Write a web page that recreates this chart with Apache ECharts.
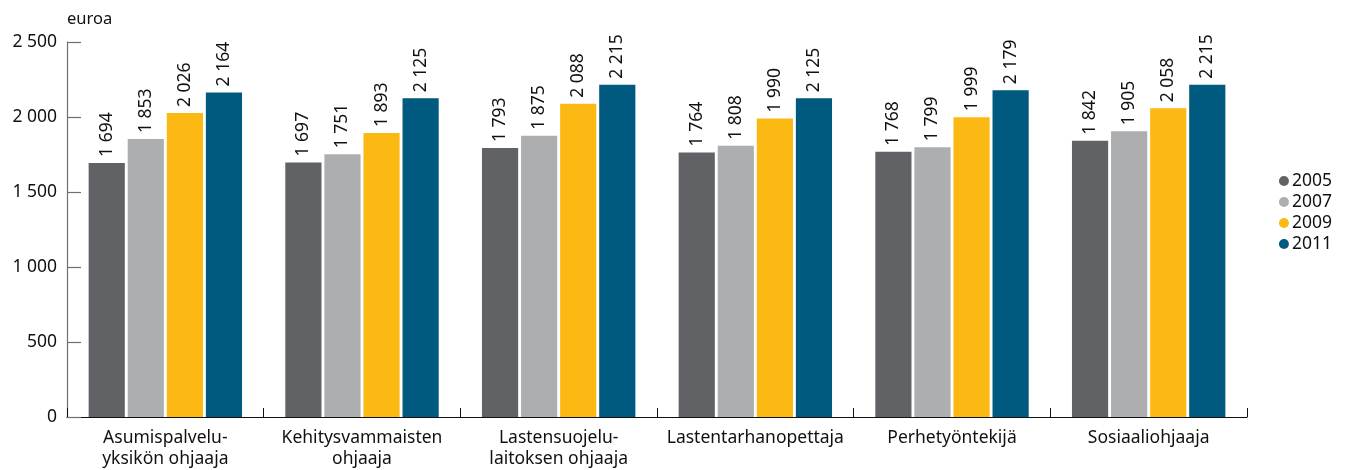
<!DOCTYPE html>
<html>
<head>
<meta charset="utf-8">
<script src="https://cdn.jsdelivr.net/npm/echarts@6/dist/echarts.min.js"></script>
<style>
  html, body { margin: 0; padding: 0; background: #fff; }
  #chart { width: 1351px; height: 470px; }
</style>
</head>
<body>
<div id="chart"></div>
<script>
// ammattinimikkeet
const categories = [
  'Asumispalvelu-\nyksikön ohjaaja',
  'Kehitysvammaisten\nohjaaja',
  'Lastensuojelu-\nlaitoksen ohjaaja',
  'Lastentarhanopettaja',
  'Perhetyöntekijä',
  'Sosiaaliohjaaja'
];
const years = ['2005', '2007', '2009', '2011'];
const values2005 = [1694, 1697, 1793, 1764, 1768, 1842];
const values2007 = [1853, 1751, 1875, 1808, 1799, 1905];
const values2009 = [2026, 1893, 2088, 1990, 1999, 2058];
const values2011 = [2164, 2125, 2215, 2125, 2179, 2215];
const colors = ['#616265', '#adaeb0', '#fdb913', '#005a7f'];

const FONT = '"Noto Sans", "Open Sans", sans-serif';

// tuhaterotin välilyönnillä
function fmt(v) {
  return String(v).replace(/\B(?=(\d{3})+(?!\d))/g, ' ');
}

const allValues = [values2005, values2007, values2009, values2011];

const chart = echarts.init(document.getElementById('chart'));
chart.setOption({
  animation: false,
  color: colors,
  textStyle: { fontFamily: FONT },
  grid: { left: 67, right: 104, top: 42, bottom: 53 },
  legend: {
    orient: 'vertical',
    right: 14,
    top: 167,
    icon: 'circle',
    itemWidth: 10,
    itemHeight: 10,
    itemGap: 3,
    textStyle: { fontFamily: FONT, fontSize: 17.5, color: '#111', padding: [0, 0, 0, -2] },
    data: years
  },
  xAxis: {
    type: 'category',
    data: categories,
    axisLine: { lineStyle: { color: '#111', width: 1.2 } },
    axisTick: { show: true, inside: true, interval: 0, length: 9, lineStyle: { color: '#111' } },
    axisLabel: { interval: 0, fontFamily: FONT, fontSize: 17.5, color: '#111', lineHeight: 21, margin: 11 }
  },
  yAxis: {
    type: 'value',
    min: 0,
    max: 2500,
    interval: 500,
    name: 'euroa',
    nameLocation: 'end',
    nameGap: 14,
    nameTextStyle: { fontFamily: FONT, fontSize: 16.5, color: '#111', align: 'left' },
    splitLine: { show: false },
    axisLine: { show: true, lineStyle: { color: '#6f6f6f', width: 1.2 } },
    axisTick: { show: true, inside: true, length: 14, lineStyle: { color: '#6f6f6f', width: 1.2 } },
    axisLabel: {
      fontFamily: FONT, fontSize: 17.5, color: '#111', margin: 10,
      formatter: v => fmt(v)
    }
  },
  series: years.map((y, i) => ({
    name: y,
    type: 'bar',
    data: allValues[i],
    barGap: '8%',
    barCategoryGap: '22%',
    label: {
      show: true,
      position: 'top',
      rotate: 90,
      align: 'left',
      verticalAlign: 'middle',
      distance: 6,
      fontFamily: FONT,
      fontSize: 17.5,
      color: '#111',
      formatter: p => fmt(p.value)
    }
  }))
});
</script>
</body>
</html>
